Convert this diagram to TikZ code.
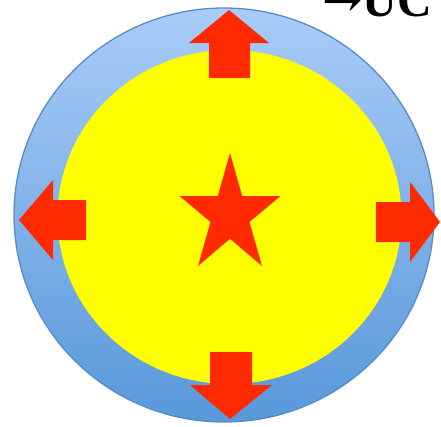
\documentclass[tikz,border=0pt]{standalone}
\usepackage{fontspec}
\setmainfont{Liberation Serif}
\newfontfamily\arrowfont{DejaVu Serif}
\definecolor{ringtop}{HTML}{A9CCF8}
\definecolor{ringbot}{HTML}{5898DA}
\definecolor{ringedge}{HTML}{5A8CC4}
\definecolor{coreyellow}{HTML}{FFFF00}
\definecolor{flowred}{HTML}{FF2A00}
\tikzset{
  flowarrow/.style={fill=flowred, draw=none},
  uctext/.style={anchor=base west, inner sep=0pt, font=\fontsize{48}{48}\selectfont\bfseries},
}
\begin{document}
\begin{tikzpicture}[x=1pt, y=-1pt]
  \useasboundingbox (0,0) rectangle (441,426);
  % outer ring and core
  \shade[top color=ringtop, bottom color=ringbot] (224,215) ellipse [x radius=210, y radius=207];
  \draw[ringedge, line width=1.3pt] (224,215) ellipse [x radius=210, y radius=207];
  \fill[coreyellow] (229.5,217) ellipse [x radius=172, y radius=167];
  % arrows pointing outwards
  \fill[flowarrow] (229,10) -- (269,43) -- (250,43) -- (250,78) -- (209,78) -- (209,43) -- (189,43) -- cycle;
  \fill[flowarrow] (230,419) -- (272,385) -- (252,385) -- (252,352) -- (210,352) -- (210,385) -- (190,385) -- cycle;
  \fill[flowarrow] (19,220) -- (53,180) -- (53,200) -- (86,200) -- (86,240) -- (53,240) -- (53,260) -- cycle;
  \fill[flowarrow] (440,222) -- (410,182) -- (410,202) -- (376,202) -- (376,242) -- (410,242) -- (410,262) -- cycle;
  % star in the centre
  \fill[flowred] (230,153) -- (242.2,196) -- (280.5,196) -- (249.5,222) -- (262,266) -- (230,238.8)
    -- (198,266) -- (210.5,222) -- (179.5,196) -- (217.8,196) -- cycle;
  % label
  \node[uctext] (uclabel) at (322,16) {{\arrowfont →}UC};
\end{tikzpicture}
\end{document}
